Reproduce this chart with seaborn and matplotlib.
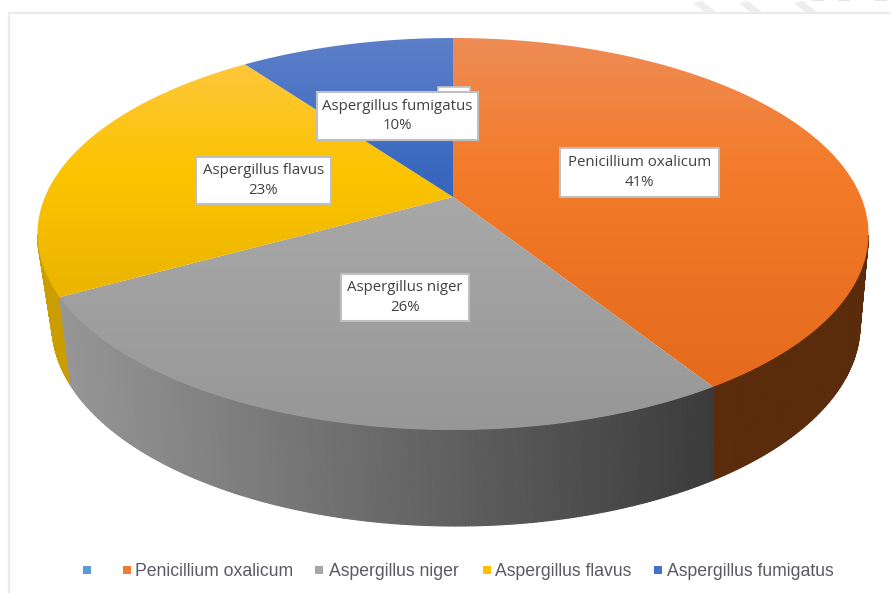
import numpy as np
import pandas as pd
import matplotlib
matplotlib.use("Agg")
import matplotlib.pyplot as plt
from matplotlib.colors import to_rgb
from matplotlib.patches import Polygon, Rectangle
from matplotlib.collections import PolyCollection
import seaborn as sns

# ---- data ----
categories = ["", "Penicillium oxalicum", "Aspergillus niger", "Aspergillus flavus", "Aspergillus fumigatus"]
percent = [0, 41, 26, 23, 10]

# ---- styles ----
legend_colors = ["#5b9bd5", "#ed7d31", "#a5a5a5", "#ffc000", "#4472c4"]
top_stops = {
    1: ["#ee8c55", "#f47b29", "#e2671a"],
    2: ["#c0c0c0", "#aaaaaa", "#979797"],
    3: ["#ffc84a", "#fcc400", "#d8a400"],
    4: ["#5c7fc9", "#3a68bf", "#2a58ae"],
}
side_stops = {1: ["#5e2e0b", "#5a2c0b"], 2: ["#979797", "#3a3a3a"], 3: ["#ca9d00", "#c49800"]}
label_boxes = {1: (560, 148, 719, 197), 2: (341, 274, 469, 321), 3: (196, 157, 331, 204), 4: (317, 92, 478, 140)}
legend_marker_x = [87, 127, 319, 487, 658]
legend_text_x = [None, 135, 329, 495, 667]

sns.set_theme(style="white")
palette = sns.color_palette(legend_colors)

fig = plt.figure(figsize=(8.91, 5.93), dpi=100, facecolor="white")
ax = fig.add_axes([0, 0, 1, 1])

TOP = dict(cx=453.0, cy=234.0, a=415.5, b=196.0, c=-0.189)
BOT = dict(cx=456.0, cy=325.0, a=404.0, b=201.0, c=-0.21)


def project(share, e):
    """Percent position round the pie (clockwise from 12 o'clock) to picture pixels."""
    t = 2 * np.pi * np.asarray(share, float) / 100.0
    u, v = np.sin(t), -np.cos(t)
    d = 1 + e["c"] * v
    return (e["cx"] + e["a"] * u * np.sqrt(1 - e["c"] ** 2) / d,
            e["cy"] + e["b"] * (v + e["c"]) / d)


edges = np.cumsum([0] + percent)
apex = (TOP["cx"], TOP["cy"] + TOP["b"] * TOP["c"])

# Frame of the pasted chart
ax.add_line(plt.Line2D([9, 9, 891], [593, 13, 13], color="#e8ebf0", lw=1.6, zorder=1))
# Faint watermark remnants above the frame
for x0 in [696, 742, 797]:
    ax.add_patch(Polygon([(x0 - 3, 3), (x0 + 6, 1), (x0 + 20, 12), (x0 + 8, 12)], color="#eeeeee", lw=0, zorder=1))
for x0 in [812, 838, 875]:
    ax.add_patch(Polygon([(x0, 0), (x0 + 12, 0), (x0 + 12, 1), (x0, 1)], color="#e4e4e4", lw=0, zorder=1))

# Sides, back to front
for order, i in enumerate([1, 3, 2]):
    s = np.linspace(edges[i], edges[i + 1], 240)
    if i == 1:
        s = s[s > 28]
    if i == 3:
        s = s[s < 72]
    xt, yt = project(s, TOP)
    xb, yb = project(s, BOT)
    quads, cols = [], []
    c0, c1 = np.array(to_rgb(side_stops[i][0])), np.array(to_rgb(side_stops[i][1]))
    xmin, xmax = (62, 720) if i == 2 else (40, 860)
    for k in range(len(s) - 1):
        quads.append([(xt[k], yt[k]), (xt[k + 1], yt[k + 1]), (xb[k + 1], yb[k + 1]), (xb[k], yb[k])])
        f = np.clip((0.5 * (xb[k] + xb[k + 1]) - xmin) / (xmax - xmin), 0, 1)
        cols.append(c0 + (c1 - c0) * f)
    ax.add_collection(PolyCollection(quads, facecolors=cols, edgecolors=cols, linewidths=0.8, zorder=2 + order * 0.1))

# Top faces with vertical gradients
rows = np.arange(594)
for i in [1, 2, 3, 4]:
    s = np.linspace(edges[i], edges[i + 1], 240)
    xt, yt = project(s, TOP)
    poly = Polygon(np.vstack([[apex], np.column_stack([xt, yt])]), closed=True, transform=ax.transData, fc="none", ec="none")
    ax.add_patch(poly)
    stops = np.array([to_rgb(c) for c in top_stops[i]])
    grad = np.stack([np.interp(rows, [38, 170, 430], stops[:, ch]) for ch in range(3)], axis=-1)[:, None, :]
    im = ax.imshow(grad, extent=[0, 891, 593, 0], aspect="auto", interpolation="bilinear", zorder=3)
    im.set_clip_path(poly)

# Hidden label of the empty first category peeks out behind the fumigatus label
ax.add_patch(Rectangle((438, 87), 32, 10, fc="white", ec="#c4c4c4", lw=1.2, zorder=4))

# Data labels
for i, (x0, y0, x1, y1) in label_boxes.items():
    ax.add_patch(Rectangle((x0, y0), x1 - x0, y1 - y0, fc="white", ec="#bfbfbf", lw=1.5, zorder=5))
    ax.text((x0 + x1) / 2, (y0 + y1) / 2, f"{categories[i]}\n{percent[i]}%", ha="center", va="center",
            fontsize=10.8, family="Open Sans", color="#404040", linespacing=1.42, zorder=6)

# Legend
legend_df = pd.DataFrame({"x": legend_marker_x, "y": [570] * 5, "name": [c or " " for c in categories]})
sns.scatterplot(data=legend_df, x="x", y="y", hue="name", palette=palette, marker="s", s=34, linewidth=0,
                legend=False, ax=ax, zorder=6)
for name, x in zip(categories[1:], legend_text_x[1:]):
    ax.text(x, 575.5, name, ha="left", va="baseline", fontsize=12.7, family="Liberation Sans", color="#5a5a66", zorder=6)

ax.set_xlim(0, 891)
ax.set_ylim(593, 0)
ax.set(xlabel="", ylabel="")
ax.axis("off")
fig.savefig("out.png", dpi=100, facecolor="white")
